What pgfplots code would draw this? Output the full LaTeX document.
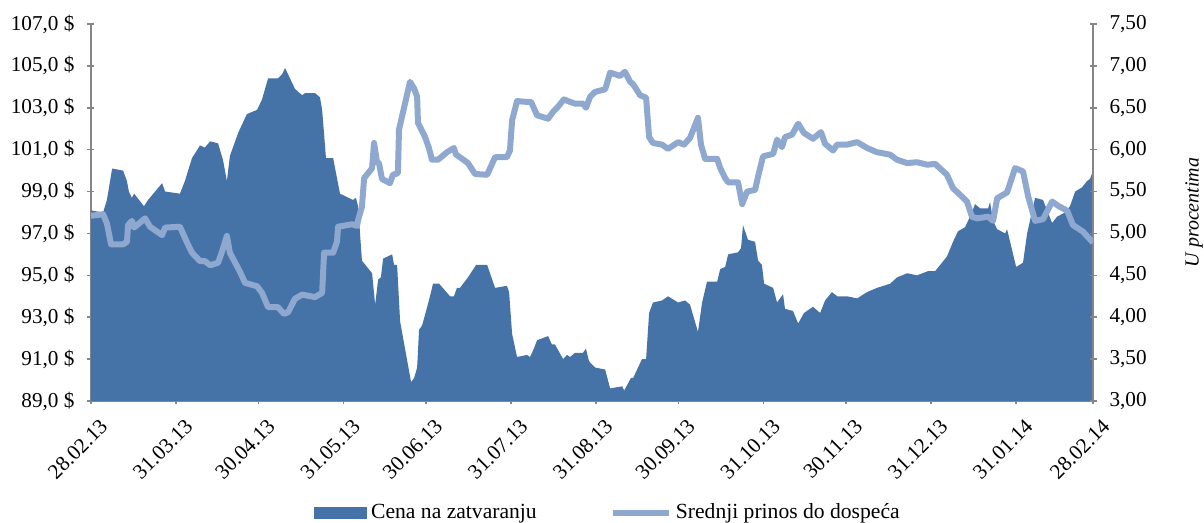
\documentclass[border=0pt]{standalone}
\usepackage{pgfplots}
\usepackage{pgfplotstable}
\pgfplotsset{compat=1.18}
\usepackage{fontspec}
\setmainfont{Liberation Serif}

\definecolor{areacol}{HTML}{4673A7}
\definecolor{linecol}{HTML}{8EA8D0}
\definecolor{axgray}{HTML}{868686}

% day (from 28.02.13)  closing price
\pgfplotstableread{
d v
0 98.1
4.4 98.0
5.8 98.6
7.7 100.1
11.7 100.0
13.1 99.5
13.8 99.0
14.9 98.7
15.7 98.9
19.3 98.3
20.8 98.6
25.9 99.4
27.0 99.0
32.4 98.9
34.2 99.5
36.8 100.6
39.7 101.2
41.5 101.1
43.4 101.4
46.3 101.3
48.1 100.5
49.5 99.5
50.6 100.7
53.6 101.8
56.8 102.7
60.5 102.9
62.3 103.4
64.5 104.4
68.1 104.4
69.6 104.6
70.7 104.9
74.3 103.9
76.9 103.6
78.0 103.7
81.6 103.7
83.4 103.5
84.2 102.9
85.6 100.6
88.2 100.6
90.7 98.9
95.4 98.6
96.5 98.7
97.3 98.3
98.7 95.7
102.4 95.1
103.5 93.6
104.6 94.8
105.6 94.9
106.4 95.8
109.7 96.0
110.4 95.5
111.5 95.5
112.6 92.8
116.6 89.9
117.7 90.1
118.8 90.6
119.5 92.4
120.6 92.6
123.1 93.8
124.6 94.6
126.0 94.6
126.8 94.6
130.8 94.0
132.2 94.0
133.3 94.4
134.4 94.4
137.3 94.9
140.3 95.5
144.3 95.5
147.2 94.4
151.5 94.5
152.3 94.2
153.4 92.2
155.2 91.1
158.8 91.2
159.9 91.1
161.0 91.4
162.5 91.9
166.5 92.1
167.9 91.7
169.0 91.7
172.0 91.0
173.4 91.2
174.5 91.1
176.3 91.3
179.2 91.3
180.3 91.5
181.4 90.9
183.6 90.6
187.3 90.5
189.1 89.6
193.5 89.7
194.2 89.5
196.7 90.1
197.5 90.1
200.7 91.0
202.2 91.0
203.3 93.2
204.7 93.7
208.0 93.8
210.2 94.0
213.9 93.7
216.4 93.8
218.2 93.6
221.1 92.3
222.6 93.7
224.4 94.7
228.1 94.7
229.2 95.3
231.0 95.4
232.1 96.0
235.7 96.1
236.8 96.3
237.5 97.4
239.3 96.7
241.9 96.6
243.0 95.7
244.4 95.5
245.2 94.6
248.5 94.4
249.9 93.7
252.1 94.1
252.8 93.4
255.7 93.3
257.6 92.7
259.7 93.2
263.0 93.5
265.6 93.2
267.4 93.8
269.9 94.2
271.8 94.0
275.4 94.0
279.1 93.9
282.7 94.2
286.3 94.4
291.1 94.6
293.6 94.9
297.3 95.1
300.9 95.0
304.9 95.2
307.5 95.2
311.8 95.9
314.0 96.6
315.8 97.1
318.4 97.3
320.9 98.0
322.0 98.4
323.9 98.2
326.8 98.2
327.5 98.5
328.6 97.6
330.1 97.2
333.0 97.0
333.7 97.2
337.0 95.4
339.5 95.6
341.0 97.0
343.9 98.7
346.8 98.6
350.1 97.5
351.9 97.8
354.8 98.0
356.6 98.3
358.5 99.0
361.0 99.2
362.8 99.5
363.9 99.6
365 100.0
}\pricetable

% day  average yield to maturity (%)
\pgfplotstableread{
d v
0 5.21
4.4 5.23
5.8 5.12
7.3 4.87
11.7 4.87
13.1 4.90
13.5 5.10
14.9 5.15
15.7 5.07
19.7 5.18
21.5 5.08
25.9 4.98
27.0 5.07
32.4 5.08
35.0 4.89
36.8 4.77
39.7 4.67
41.5 4.67
43.4 4.62
46.3 4.65
47.7 4.78
49.5 4.97
50.6 4.77
54.3 4.54
56.1 4.41
60.5 4.37
62.3 4.29
64.5 4.12
68.1 4.12
70.3 4.04
71.8 4.06
74.3 4.22
76.9 4.27
81.6 4.24
84.2 4.29
84.9 4.77
88.2 4.77
89.6 4.90
90.0 5.08
95.1 5.11
96.9 5.09
97.3 5.16
98.7 5.32
99.5 5.66
102.4 5.78
103.1 6.08
104.2 5.85
104.9 5.84
106.0 5.65
108.9 5.60
110.0 5.70
111.8 5.72
112.2 6.24
116.2 6.81
117.7 6.73
118.8 6.63
119.1 6.32
121.7 6.15
123.1 6.02
124.2 5.88
126.4 5.88
129.7 5.97
132.2 6.02
133.0 5.94
134.4 5.91
137.3 5.84
139.9 5.71
144.3 5.70
147.2 5.91
151.5 5.91
152.6 5.99
153.4 6.35
155.2 6.58
158.8 6.57
160.3 6.57
162.5 6.41
166.5 6.37
168.3 6.45
169.8 6.50
172.3 6.60
174.5 6.57
176.3 6.55
179.2 6.55
180.3 6.50
181.8 6.63
183.6 6.69
187.3 6.72
189.1 6.92
192.7 6.88
194.5 6.93
196.4 6.81
197.5 6.78
200.0 6.65
202.2 6.62
203.3 6.15
204.7 6.08
208.0 6.06
210.2 6.01
213.9 6.09
216.0 6.06
218.2 6.14
221.1 6.38
222.2 6.06
223.7 5.89
228.1 5.89
229.2 5.78
231.0 5.66
232.1 5.61
235.7 5.61
237.2 5.35
239.0 5.50
241.9 5.52
243.0 5.68
244.8 5.92
248.5 5.95
249.9 6.12
251.7 6.03
252.8 6.15
255.4 6.18
257.6 6.31
259.7 6.20
263.0 6.13
265.9 6.21
267.4 6.07
270.3 5.99
271.8 6.06
275.4 6.06
279.1 6.09
282.7 6.02
286.3 5.97
291.1 5.94
293.6 5.88
297.3 5.84
300.9 5.85
304.6 5.82
307.5 5.83
311.8 5.70
314.0 5.54
316.6 5.46
319.1 5.38
320.9 5.20
322.8 5.18
326.8 5.20
328.6 5.15
330.1 5.42
333.7 5.49
336.6 5.78
339.5 5.74
341.4 5.44
343.9 5.15
346.8 5.17
350.1 5.38
352.3 5.33
355.6 5.27
357.7 5.10
361.4 5.02
365 4.89
}\yieldtable

\pgfplotsset{
  common/.style={
    scale only axis,
    width=501pt, height=188.5pt,
    xmin=0, xmax=365,
    xtick={0,31,61,92,122,153,184,214,245,275,306,337,365},
    tick align=outside,
    major tick length=3.5pt,
    every tick/.style={axgray, line width=0.8pt},
    tick label style={font=\fontsize{10.6}{12}\selectfont, text=black},
    label style={font=\fontsize{10.8}{12}\selectfont},
  }
}

\begin{document}
\begin{tikzpicture}
\begin{axis}[common,
  axis x line=bottom, axis y line=left,
  ymin=89, ymax=107, ytick={89,91,...,107},
  xticklabels={28.02.13,31.03.13,30.04.13,31.05.13,30.06.13,31.07.13,31.08.13,30.09.13,31.10.13,30.11.13,31.12.13,31.01.14,28.02.14},
  xticklabel style={rotate=45, anchor=north east, xshift=1.5pt, yshift=-4pt},
  yticklabel style={xshift=-3pt, /pgf/number format/.cd, fixed, fixed zerofill, precision=1, use comma, assume math mode=true},
  yticklabel={\pgfmathprintnumber{\tick}~\$},
  axis line style={-, axgray, line width=1pt},
]
\addplot[fill=areacol, draw=none] table[x=d, y=v] {\pricetable} \closedcycle;
\end{axis}

\begin{axis}[common,
  axis x line=none, axis y line=right,
  ymin=3, ymax=7.5, ytick={3,3.5,...,7.5},
  yticklabel style={xshift=3pt, /pgf/number format/.cd, fixed, fixed zerofill, precision=2, use comma, assume math mode=true},
  axis line style={-, axgray, line width=1pt},
  ylabel={\itshape U procentima},
  ylabel style={at={(axis description cs:1.101,0.5)}, anchor=center},
  legend style={at={(0.517,-0.297)}, anchor=center, draw=none, fill=none,
    font=\fontsize{10.8}{12}\selectfont, legend columns=2,
    /tikz/every even column/.append style={column sep=35pt}},
]
\addlegendimage{legend image code/.code={\fill[areacol] (0pt,-2.75pt) rectangle (26pt,2.75pt);}}
\addlegendentry{Cena na zatvaranju}
\addplot[linecol, line width=3pt, line join=round,
  legend image code/.code={\draw[linecol, line width=2.6pt] (0pt,0pt) -- (28pt,0pt);}]
  table[x=d, y=v] {\yieldtable};
\addlegendentry{Srednji prinos do dospeća}
\end{axis}
\pgfresetboundingbox
\path (-45.5pt,-61pt) rectangle (556.5pt,200.5pt);
\end{tikzpicture}
\end{document}
